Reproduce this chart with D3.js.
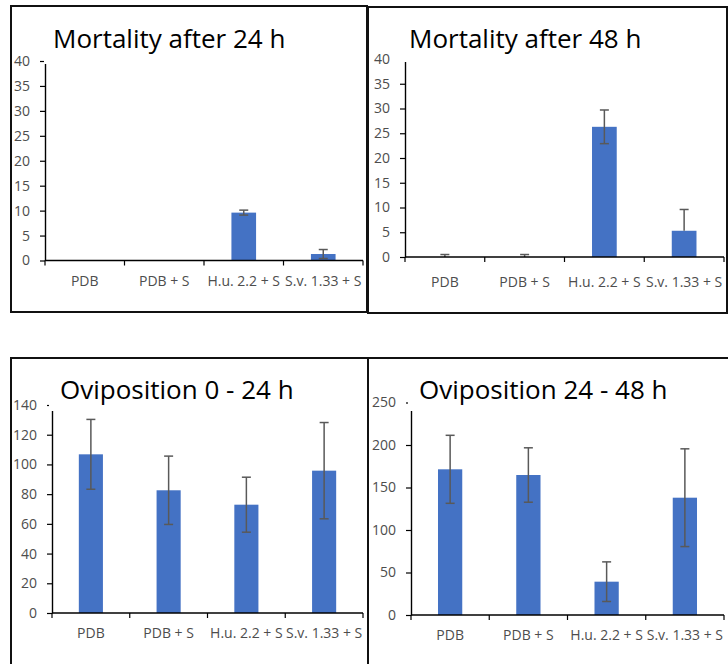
<!DOCTYPE html>
<html>
<head>
<meta charset="utf-8">
<script src="https://cdn.jsdelivr.net/npm/d3@7/dist/d3.min.js"></script>
<style>
  html, body { margin: 0; padding: 0; background: #fff; }
  svg { display: block; }
</style>
</head>
<body>
<svg id="chart" width="728" height="664"></svg>
<script>
// Treatments shared by all four panels
const categories = ["PDB", "PDB + S", "H.u. 2.2 + S", "S.v. 1.33 + S"];

// Mortality (%) after 24 h, mean and error
const mortality24 = [0, 0, 9.6, 1.3];
const mortality24ErrPlus = [0, 0, 0.5, 0.9];
const mortality24ErrMinus = [0, 0, 0.5, 0.9];

// Mortality (%) after 48 h, mean and error
const mortality48 = [0, 0, 26.3, 5.3];
const mortality48ErrPlus = [0.5, 0.5, 3.4, 4.3];
const mortality48ErrMinus = [0.5, 0.5, 3.4, 0];

// Eggs laid 0 - 24 h
const oviposition0to24 = [106.8, 82.6, 72.9, 95.8];
const oviposition0to24Err = [23.5, 23, 18.5, 32.4];

// Eggs laid 24 - 48 h
const oviposition24to48 = [171.4, 164.7, 39.2, 138];
const oviposition24to48Err = [40, 32, 23.3, 57.5];

// Y axis tick values
const mortalityTicks = [0, 5, 10, 15, 20, 25, 30, 35, 40];
const ovi0to24Ticks = [0, 20, 40, 60, 80, 100, 120, 140];
const ovi24to48Ticks = [0, 50, 100, 150, 200, 250];

const panels = [
  {
    title: "Mortality after 24 h",
    values: mortality24, errPlus: mortality24ErrPlus, errMinus: mortality24ErrMinus,
    ticks: mortalityTicks,
    frame: { x0: 11, y0: 6, x1: 367, y1: 312 },
    plot: { left: 45, right: 363, top: 61, bottom: 260.5 },
    titlePos: { x: 53, y: 48 },
    titleBox: { x: 44, y: 10, w: 318, h: 54 },
    xLabelY: 286
  },
  {
    title: "Mortality after 48 h",
    values: mortality48, errPlus: mortality48ErrPlus, errMinus: mortality48ErrMinus,
    ticks: mortalityTicks,
    frame: { x0: 368, y0: 7, x1: 727, y1: 313 },
    plot: { left: 405, right: 724, top: 59, bottom: 257 },
    titlePos: { x: 409, y: 48 },
    titleBox: { x: 398, y: 11, w: 326, h: 51 },
    xLabelY: 287
  },
  {
    title: "Oviposition 0 - 24 h",
    values: oviposition0to24, errPlus: oviposition0to24Err, errMinus: oviposition0to24Err,
    ticks: ovi0to24Ticks,
    frame: { x0: 11, y0: 358, x1: 368, y1: 667 },
    plot: { left: 52, right: 363, top: 405, bottom: 613 },
    titlePos: { x: 60, y: 399 },
    titleBox: { x: 49, y: 362, w: 314, h: 49 },
    xLabelY: 638
  },
  {
    title: "Oviposition 24 - 48 h",
    values: oviposition24to48, errPlus: oviposition24to48Err, errMinus: oviposition24to48Err,
    ticks: ovi24to48Ticks,
    frame: { x0: 368, y0: 358, x1: 731, y1: 667 },
    plot: { left: 411, right: 724, top: 402.5, bottom: 615 },
    titlePos: { x: 419, y: 399 },
    titleBox: { x: 408, y: 362, w: 316, h: 49 },
    xLabelY: 640
  }
];

const svg = d3.select("#chart");
const FONT = "'Open Sans', 'Noto Sans', sans-serif";
const BAR = "#4472C4";
const ERR = "#595959";
const LABEL = "#4d4d4d";
const LABEL_SIZE = "14px";

panels.forEach(p => {
  const g = svg.append("g");
  const n = categories.length;

  const x = d3.scaleBand()
    .domain(categories)
    .range([p.plot.left, p.plot.right])
    .paddingInner(0.69)
    .paddingOuter(0.345);

  const yMax = d3.max(p.ticks);
  const y = d3.scaleLinear()
    .domain([0, yMax])
    .range([p.plot.bottom, p.plot.top]);

  // Bars
  g.selectAll("rect.bar")
    .data(p.values)
    .join("rect")
    .attr("class", "bar")
    .attr("x", (d, i) => x(categories[i]))
    .attr("width", x.bandwidth())
    .attr("y", d => y(d))
    .attr("height", d => y(0) - y(d))
    .attr("fill", BAR);

  // Error bars (clipped at the category axis)
  const cap = 4.5;
  p.values.forEach((v, i) => {
    const hi = v + p.errPlus[i];
    const lo = Math.max(0, v - p.errMinus[i]);
    if (hi === lo) return;
    const cx = x(categories[i]) + x.bandwidth() / 2;
    g.append("line")
      .attr("x1", cx).attr("x2", cx)
      .attr("y1", y(hi)).attr("y2", y(lo))
      .attr("stroke", ERR).attr("stroke-width", 1.5);
    g.append("line")
      .attr("x1", cx - cap).attr("x2", cx + cap)
      .attr("y1", y(hi)).attr("y2", y(hi))
      .attr("stroke", ERR).attr("stroke-width", 1.5);
    if (p.errMinus[i] > 0 && v - p.errMinus[i] >= 0) {
      g.append("line")
        .attr("x1", cx - cap).attr("x2", cx + cap)
        .attr("y1", y(lo)).attr("y2", y(lo))
        .attr("stroke", ERR).attr("stroke-width", 1.5);
    }
  });

  // Y axis
  const yAxis = d3.axisLeft(y)
    .tickValues(p.ticks)
    .tickSize(5)
    .tickSizeOuter(0)
    .tickPadding(10)
    .tickFormat(d3.format("d"));
  const ya = g.append("g")
    .attr("transform", `translate(${p.plot.left},0)`)
    .call(yAxis);
  ya.select(".domain").attr("stroke", "#000").attr("stroke-width", 1.4);
  ya.selectAll(".tick line").attr("stroke", "#000").attr("stroke-width", 1.2);
  ya.selectAll(".tick text")
    .attr("fill", LABEL)
    .style("font-family", FONT)
    .style("font-size", LABEL_SIZE);

  // X axis with tick marks on category boundaries
  const xa = g.append("g")
    .attr("transform", `translate(0,${y(0)})`);
  xa.append("line")
    .attr("x1", p.plot.left).attr("x2", p.plot.right)
    .attr("stroke", "#000").attr("stroke-width", 1.6);
  d3.range(n + 1).forEach(i => {
    const tx = x.range()[0] + i * x.step();
    xa.append("line")
      .attr("x1", tx).attr("x2", tx)
      .attr("y1", 0).attr("y2", 5)
      .attr("stroke", "#000").attr("stroke-width", 1.2);
  });
  xa.selectAll("text.cat")
    .data(categories)
    .join("text")
    .attr("class", "cat")
    .attr("x", d => x(d) + x.bandwidth() / 2)
    .attr("y", p.xLabelY - y(0))
    .attr("text-anchor", "middle")
    .attr("fill", LABEL)
    .style("font-family", FONT)
    .style("font-size", LABEL_SIZE)
    .text(d => d);

  // Title box (white, sits over the top of the value axis)
  g.append("rect")
    .attr("x", p.titleBox.x).attr("y", p.titleBox.y)
    .attr("width", p.titleBox.w).attr("height", p.titleBox.h)
    .attr("fill", "#fff");
  g.append("text")
    .attr("x", p.titlePos.x).attr("y", p.titlePos.y)
    .attr("fill", "#000")
    .style("font-family", FONT)
    .style("font-size", "26px")
    .text(p.title);

  // Panel frame
  g.append("rect")
    .attr("x", p.frame.x0).attr("y", p.frame.y0)
    .attr("width", p.frame.x1 - p.frame.x0)
    .attr("height", p.frame.y1 - p.frame.y0)
    .attr("fill", "none")
    .attr("stroke", "#111")
    .attr("stroke-width", 2);
});
</script>
</body>
</html>
